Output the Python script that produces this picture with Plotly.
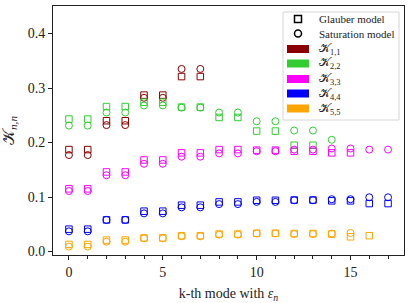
import plotly.graph_objects as go

# ---- data ----
modes = list(range(18))

glauber_k11 = [0.187, 0.187, 0.240, 0.240, 0.287, 0.287, 0.321, 0.321]
sat_k11     = [0.177, 0.177, 0.232, 0.232, 0.282, 0.282, 0.335, 0.335]

glauber_k22 = [0.243, 0.243, 0.266, 0.266, 0.274, 0.274, 0.265, 0.265,
               0.246, 0.246, 0.221, 0.221, 0.195, 0.195]
sat_k22     = [0.231, 0.231, 0.255, 0.255, 0.268, 0.268, 0.264, 0.264,
               0.255, 0.255, 0.239, 0.239, 0.222, 0.222, 0.205]

glauber_k33 = [0.115, 0.115, 0.146, 0.146, 0.168, 0.168, 0.181, 0.181,
               0.187, 0.187, 0.186, 0.186, 0.184, 0.184, 0.181, 0.181]
sat_k33     = [0.111, 0.111, 0.140, 0.140, 0.161, 0.161, 0.174, 0.174,
               0.180, 0.180, 0.184, 0.184, 0.187, 0.187, 0.189, 0.189,
               0.187, 0.187]

glauber_k44 = [0.041, 0.041, 0.058, 0.058, 0.074, 0.074, 0.085, 0.085,
               0.091, 0.091, 0.094, 0.094, 0.0945, 0.0945, 0.093, 0.093,
               0.088, 0.088]
sat_k44     = [0.037, 0.037, 0.058, 0.058, 0.070, 0.070, 0.081, 0.081,
               0.087, 0.087, 0.091, 0.091, 0.094, 0.094, 0.096, 0.096,
               0.0995, 0.0995]

glauber_k55 = [0.013, 0.013, 0.021, 0.021, 0.025, 0.025, 0.029, 0.029,
               0.032, 0.032, 0.0335, 0.0335, 0.033, 0.033, 0.032, 0.027,
               0.029]
sat_k55     = [0.009, 0.009, 0.018, 0.018, 0.024, 0.024, 0.028, 0.028,
               0.031, 0.031, 0.033, 0.033, 0.032, 0.032, 0.033, 0.034]

series_labels = ["1,1", "2,2", "3,3", "4,4", "5,5"]
series_colors = ["#8b0000", "#32cd32", "#ff00ff", "#0000ff", "#ffa500"]
model_labels = ["Glauber model", "Saturation model"]
glauber_all = [glauber_k11, glauber_k22, glauber_k33, glauber_k44, glauber_k55]
sat_all = [sat_k11, sat_k22, sat_k33, sat_k44, sat_k55]

FONT = "Liberation Serif"
K = "\U0001D4A6"

W, H = 412, 303
ML, MR, MT, MB = 53, 8, 6, 48
PW, PH = W - ML - MR, H - MT - MB


def px(xp):
    return (xp - ML) / PW


def py(yp):
    return (H - MB - yp) / PH


fig = go.Figure()

for g, s, c in zip(glauber_all, sat_all, series_colors):
    fig.add_trace(go.Scatter(
        x=modes[:len(g)], y=g, mode="markers", showlegend=False,
        marker=dict(symbol="square-open", size=6.5, color=c, line=dict(width=1, color=c))))
    fig.add_trace(go.Scatter(
        x=modes[:len(s)], y=s, mode="markers", showlegend=False,
        marker=dict(symbol="circle-open", size=7, color=c, line=dict(width=1, color=c))))

# ---- hand-drawn legend (paper coordinates) ----
shapes = []
annotations = []
shapes.append(dict(type="rect", xref="paper", yref="paper",
                   x0=px(283), x1=px(399), y0=py(120), y1=py(12),
                   line=dict(color="#d6d6d6", width=1), fillcolor="rgba(255,255,255,0.9)",
                   layer="above"))
row_y = [19, 33.5, 49, 63.5, 79, 93.5, 108.5]
# model markers
shapes.append(dict(type="rect", xref="paper", yref="paper",
                   x0=px(294.5), x1=px(301.5), y0=py(row_y[0] + 3.5), y1=py(row_y[0] - 3.5),
                   line=dict(color="black", width=1.5), layer="above"))
shapes.append(dict(type="circle", xref="paper", yref="paper",
                   x0=px(294.5), x1=px(301.5), y0=py(row_y[1] + 3.5), y1=py(row_y[1] - 3.5),
                   line=dict(color="black", width=1.5), layer="above"))
for i, lab in enumerate(model_labels):
    annotations.append(dict(xref="paper", yref="paper", x=px(317), y=py(row_y[i]),
                            text=lab, showarrow=False, xanchor="left", yanchor="middle",
                            font=dict(family=FONT, size=11, color="#222")))
for j, (lab, c) in enumerate(zip(series_labels, series_colors)):
    yy = row_y[j + 2]
    shapes.append(dict(type="rect", xref="paper", yref="paper",
                       x0=px(287), x1=px(309), y0=py(yy + 4), y1=py(yy - 4),
                       line=dict(width=0), fillcolor=c, layer="above"))
    annotations.append(dict(xref="paper", yref="paper", x=px(317), y=py(yy),
                            text=f"{K}<sub>{lab}</sub>", showarrow=False,
                            xanchor="left", yanchor="middle",
                            font=dict(family=FONT, size=12, color="#222")))

fig.update_layout(
    width=W, height=H,
    margin=dict(l=ML, r=MR, t=MT, b=MB),
    paper_bgcolor="white", plot_bgcolor="white",
    font=dict(family=FONT, size=14, color="#222"),
    showlegend=False,
    shapes=shapes, annotations=annotations,
)

fig.update_xaxes(
    range=[-0.85, 17.85], tickmode="array", tickvals=[0, 5, 10, 15],
    ticks="outside", ticklen=4, tickwidth=1, tickcolor="#222",
    minor=dict(tickmode="linear", tick0=0, dtick=1, ticks="outside", ticklen=2.5,
               tickcolor="#222", showgrid=False),
    showline=True, linecolor="#222", linewidth=1, mirror=True,
    showgrid=False, zeroline=False, automargin=False,
    title=dict(text="k-th mode with <i>ε<sub>n</sub></i>",
               font=dict(family=FONT, size=14)),
)
fig.update_yaxes(
    range=[-0.0064, 0.4505], tickmode="array", tickvals=[0.0, 0.1, 0.2, 0.3, 0.4],
    ticktext=["0.0", "0.1", "0.2", "0.3", "0.4"],
    ticks="outside", ticklen=4, tickwidth=1, tickcolor="#222",
    showline=True, linecolor="#222", linewidth=1, mirror=True,
    showgrid=False, zeroline=False, automargin=False,
    title=dict(text=f"{K}<sub><i>n,n</i></sub>",
               font=dict(family=FONT, size=16)),
)

fig.write_html("out.html",
               config={"displayModeBar": False},
               post_script="document.body.style.margin='0';document.body.style.overflow='hidden';")
